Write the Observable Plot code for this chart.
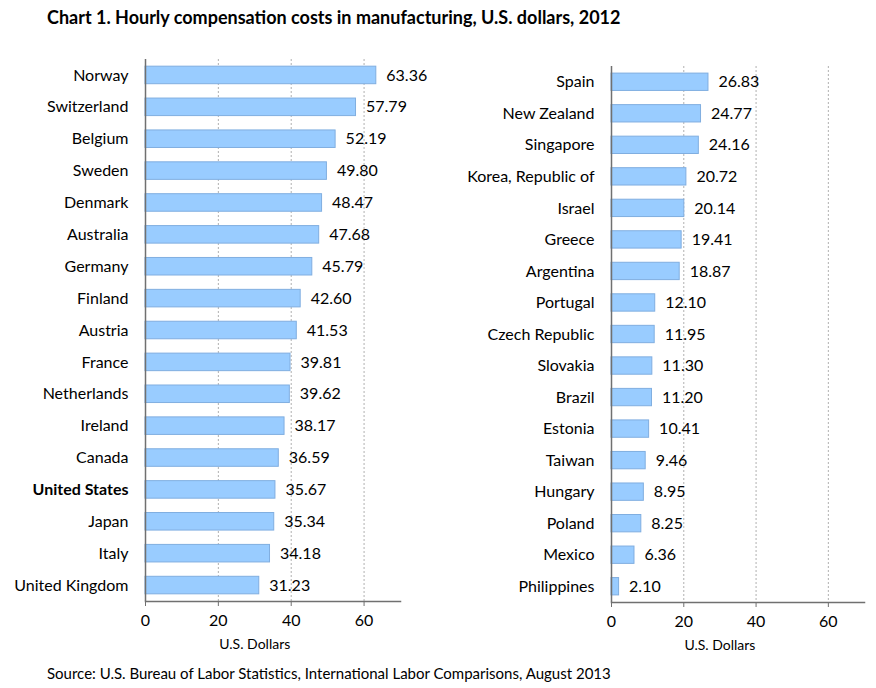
<!DOCTYPE html>
<html><head><meta charset="utf-8">
<script src="https://cdn.jsdelivr.net/npm/d3@7"></script>
<script src="https://cdn.jsdelivr.net/npm/@observablehq/plot@0.6"></script>
<style>
body{margin:0;background:#fff;font-family:Lato,"Open Sans",sans-serif;}
#wrap{position:relative;width:876px;height:688px;overflow:hidden;}
#title{position:absolute;left:47px;top:6px;font-size:18px;font-weight:bold;color:#000;white-space:nowrap;}
#source{position:absolute;left:47px;top:664px;font-size:15px;color:#000;white-space:nowrap;}
#left{position:absolute;left:0;top:40px;}
#right{position:absolute;left:440px;top:40px;}
</style></head>
<body>
<div id="wrap">
<div id="title">Chart 1. Hourly compensation costs in manufacturing, U.S. dollars, 2012</div>
<div id="left"></div>
<div id="right"></div>
<div id="source">Source: U.S. Bureau of Labor Statistics, International Labor Comparisons, August 2013</div>
</div>
<script>
const leftCountries = ["Norway","Switzerland","Belgium","Sweden","Denmark","Australia","Germany","Finland","Austria","France","Netherlands","Ireland","Canada","United States","Japan","Italy","United Kingdom"];
const leftValues = [63.36,57.79,52.19,49.80,48.47,47.68,45.79,42.60,41.53,39.81,39.62,38.17,36.59,35.67,35.34,34.18,31.23];
const rightCountries = ["Spain","New Zealand","Singapore","Korea, Republic of","Israel","Greece","Argentina","Portugal","Czech Republic","Slovakia","Brazil","Estonia","Taiwan","Hungary","Poland","Mexico","Philippines"];
const rightValues = [26.83,24.77,24.16,20.72,20.14,19.41,18.87,12.10,11.95,11.30,11.20,10.41,9.46,8.95,8.25,6.36,2.10];
const xTicks = [0,20,40,60];
const gridTicks = [20,40,60];
const highlight = "United States";
const axisLabel = "U.S. Dollars";

function panel(countries, values, opts) {
  const data = countries.map((c, i) => ({country: c, value: values[i]}));
  return Plot.plot({
    width: opts.width,
    height: 625,
    marginLeft: opts.marginLeft,
    marginRight: opts.marginRight,
    marginTop: opts.marginTop,
    marginBottom: 625 - opts.bottom,
    style: {fontFamily: "Lato, 'Open Sans', sans-serif", fontSize: "16px", color: "#000", background: "transparent"},
    x: {domain: [0, 70], axis: null},
    y: {domain: countries, paddingInner: 0.45, paddingOuter: 0.225, round: false, axis: null},
    marks: [
      Plot.ruleX(gridTicks, {stroke: "#b0b0b0", strokeDasharray: "2,2"}),
      Plot.barX(data, {x: "value", y: "country", fill: "#99ccff", stroke: "#80aee0", strokeWidth: 1}),
      Plot.text(data, {x: "value", y: "country", text: d => d.value.toFixed(2), textAnchor: "start", dx: 10, fontSize: 16, fill: "#000"}),
      Plot.text(data.filter(d => d.country !== highlight), {y: "country", text: "country", frameAnchor: "left", textAnchor: "end", dx: -17, fontSize: 16, fill: "#000"}),
      Plot.text(data.filter(d => d.country === highlight), {y: "country", text: "country", frameAnchor: "left", textAnchor: "end", dx: -17, fontSize: 16, fontWeight: "bold", fill: "#000"}),
      Plot.ruleX([0], {stroke: "#707070", strokeWidth: 1.5}),
      Plot.frame({anchor: "bottom", stroke: "#707070", strokeWidth: 1.5}),
      Plot.axisX(xTicks, {tickSize: 5, tickPadding: 8, fontSize: 16, stroke: "#707070", color: "#000", label: null}),
      Plot.text([axisLabel], {x: 30, frameAnchor: "bottom", dy: 47, fontSize: 14, fill: "#000"})
    ]
  });
}

document.getElementById("left").appendChild(panel(leftCountries, leftValues, {width: 440, marginLeft: 145, marginRight: 40, marginTop: 19, bottom: 561}));
document.getElementById("right").appendChild(panel(rightCountries, rightValues, {width: 436, marginLeft: 171, marginRight: 12, marginTop: 26, bottom: 562}));
</script>
</body></html>
